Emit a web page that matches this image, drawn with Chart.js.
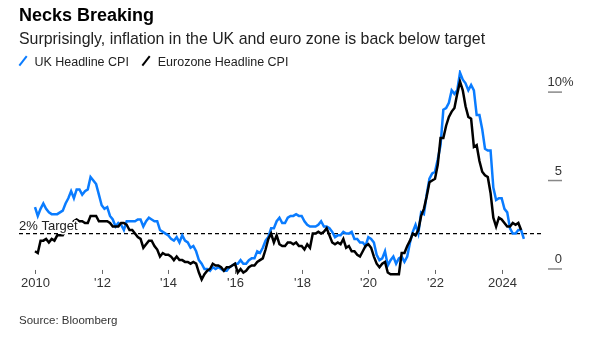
<!DOCTYPE html>
<html>
<head>
<meta charset="utf-8">
<script src="https://cdn.jsdelivr.net/npm/chart.js@4.4.1/dist/chart.umd.min.js"></script>
<style>
  body { margin: 0; background: #fff; font-family: "Liberation Sans", Arial, sans-serif; }
  #wrap { position: relative; width: 592px; height: 337px; overflow: hidden; }
  #wrap canvas { position: absolute; left: 0; top: 0; }
  .title { position: absolute; left: 19px; top: 5px; font-size: 18px; font-weight: bold; color: #000; }
  .subtitle { position: absolute; left: 19px; top: 30px; font-size: 15.9px; color: #222; }
  .legend { position: absolute; left: 19px; top: 55px; font-size: 12.5px; color: #222; white-space: nowrap; }
  .legend span.item { display: inline-block; margin-right: 10px; }
  .legend i { display: inline-block; width: 2.4px; height: 12px; margin: 0 10px -1px 3px; transform: rotate(38deg); }
  .source { position: absolute; left: 19px; top: 314px; font-size: 11.5px; color: #333; }
</style>
</head>
<body>
<div id="wrap">
  <canvas id="cpiChart" width="592" height="337"></canvas>
  <div class="title">Necks Breaking</div>
  <div class="subtitle">Surprisingly, inflation in the UK and euro zone is back below target</div>
  <div class="legend">
    <span class="item"><i style="background:#0a7cff"></i>UK Headline CPI</span>
    <span class="item"><i style="background:#000"></i>Eurozone Headline CPI</span>
  </div>
  <div class="source">Source: Bloomberg</div>
</div>
<script>
// monthly year-on-year CPI, Jan 2010 onwards
const startYear = 2010;
const ukCpi = [
  3.5, 3.0, 3.4, 3.7, 3.4, 3.2, 3.1, 3.1, 3.1, 3.2, 3.3, 3.7,
  4.0, 4.4, 4.0, 4.5, 4.5, 4.2, 4.4, 4.5, 5.2, 5.0, 4.8, 4.2,
  3.6, 3.4, 3.5, 3.0, 2.8, 2.4, 2.6, 2.5, 2.2, 2.7, 2.7, 2.7,
  2.7, 2.8, 2.8, 2.4, 2.7, 2.9, 2.8, 2.7, 2.7, 2.2, 2.1, 2.0,
  1.9, 1.7, 1.6, 1.8, 1.5, 1.9, 1.6, 1.5, 1.2, 1.3, 1.0, 0.5,
  0.3, 0.0, 0.0, -0.1, 0.1, 0.0, 0.1, 0.0, -0.1, -0.1, 0.1, 0.2,
  0.3, 0.3, 0.5, 0.3, 0.3, 0.5, 0.6, 0.6, 1.0, 0.9, 1.2, 1.6,
  1.8, 2.3, 2.3, 2.7, 2.9, 2.6, 2.6, 2.9, 3.0, 3.0, 3.1, 3.0,
  3.0, 2.7, 2.5, 2.4, 2.4, 2.4, 2.5, 2.7, 2.4, 2.4, 2.3, 2.1,
  1.8, 1.9, 1.9, 2.1, 2.0, 2.0, 2.1, 1.7, 1.7, 1.5, 1.5, 1.3,
  1.8, 1.7, 1.5, 0.8, 0.5, 0.6, 1.0, 0.2, 0.5, 0.7, 0.3, 0.6,
  0.7, 0.4, 0.7, 1.5, 2.1, 2.5, 2.0, 3.2, 3.1, 4.2, 5.1, 5.4,
  5.5, 6.2, 7.0, 9.0, 9.1, 9.4, 10.1, 9.9, 10.1, 11.1, 10.7, 10.5,
  10.1, 10.4, 10.1, 8.7, 8.7, 7.9, 6.8, 6.7, 6.7, 4.6, 3.9, 4.0,
  4.0, 3.4, 3.2, 2.3, 2.0, 2.0, 2.2, 2.2, 1.7
];
const euroCpi = [
  1.0, 0.9, 1.6, 1.6, 1.7, 1.5, 1.7, 1.6, 1.9, 1.9, 1.9, 2.2,
  2.3, 2.4, 2.7, 2.8, 2.7, 2.7, 2.6, 2.6, 3.0, 3.0, 3.0, 2.7,
  2.7, 2.7, 2.7, 2.6, 2.4, 2.4, 2.4, 2.6, 2.6, 2.5, 2.2, 2.2,
  2.0, 1.8, 1.7, 1.2, 1.4, 1.6, 1.6, 1.3, 1.1, 0.7, 0.9, 0.8,
  0.8, 0.7, 0.5, 0.7, 0.5, 0.5, 0.4, 0.4, 0.3, 0.4, 0.3, -0.2,
  -0.6, -0.3, -0.1, 0.0, 0.3, 0.2, 0.2, 0.1, -0.1, 0.1, 0.1, 0.2,
  0.3, -0.2, 0.0, -0.2, -0.1, 0.1, 0.2, 0.2, 0.4, 0.5, 0.6, 1.1,
  1.7, 2.0, 1.5, 1.9, 1.4, 1.3, 1.3, 1.5, 1.5, 1.4, 1.5, 1.3,
  1.3, 1.1, 1.4, 1.2, 2.0, 2.0, 2.1, 2.0, 2.1, 2.3, 1.9, 1.5,
  1.4, 1.5, 1.4, 1.7, 1.2, 1.3, 1.0, 1.0, 0.8, 0.7, 1.0, 1.3,
  1.4, 1.2, 0.7, 0.3, 0.1, 0.3, 0.4, -0.2, -0.3, -0.3, -0.3, -0.3,
  0.9, 0.9, 1.3, 1.6, 2.0, 1.9, 2.2, 3.0, 3.4, 4.1, 4.9, 5.0,
  5.1, 5.9, 7.4, 7.4, 8.1, 8.6, 8.9, 9.1, 9.9, 10.6, 10.1, 9.2,
  8.6, 8.5, 6.9, 7.0, 6.1, 5.5, 5.3, 5.2, 4.3, 2.9, 2.4, 2.9,
  2.8, 2.6, 2.4, 2.4, 2.6, 2.5, 2.6, 2.2
];
const targetRate = 2;
const xTicks = [2010, 2012, 2014, 2016, 2018, 2020, 2022, 2024];
const xTickLabels = ['2010', "'12", "'14", "'16", "'18", "'20", "'22", '2024'];
const yTicks = [0, 5, 10];
const yTickLabels = ['0', '5', '10'];

const xMin = 2009.52, xMax = 2025.21;

function toPoints(values) {
  return values.map((v, i) => ({ x: startYear + i / 12, y: v }));
}

// tick marks, tick labels and the target label
const axisDecor = {
  id: 'axisDecor',
  afterDatasetsDraw(chart) {
    const ctx = chart.ctx;
    const x = chart.scales.x, y = chart.scales.y;
    ctx.save();
    ctx.font = '13px "Liberation Sans", Arial, sans-serif';
    ctx.fillStyle = '#333';
    ctx.strokeStyle = '#666';
    ctx.lineWidth = 1;

    // x ticks
    const y0 = y.getPixelForValue(0);
    ctx.textAlign = 'center';
    ctx.textBaseline = 'middle';
    xTicks.forEach((t, i) => {
      const px = Math.round(x.getPixelForValue(t)) + 0.5;
      ctx.beginPath();
      ctx.moveTo(px, y0 + 1);
      ctx.lineTo(px, y0 + 5);
      ctx.stroke();
      ctx.fillText(xTickLabels[i], px, y0 + 14);
    });

    // y ticks on the right, label sits above the tick line
    ctx.strokeStyle = '#888';
    ctx.lineWidth = 1.5;
    ctx.textAlign = 'right';
    ctx.textBaseline = 'alphabetic';
    yTicks.forEach((t, i) => {
      const py = y.getPixelForValue(t);
      ctx.beginPath();
      ctx.moveTo(548, py);
      ctx.lineTo(562, py);
      ctx.stroke();
      ctx.fillText(yTickLabels[i], 562, py - 6);
      if (i === yTicks.length - 1) {
        ctx.textAlign = 'left';
        ctx.fillText('%', 562, py - 6);
        ctx.textAlign = 'right';
      }
    });

    // target label with a white halo
    const ty = y.getPixelForValue(targetRate) - 4;
    ctx.textAlign = 'left';
    ctx.lineWidth = 3;
    ctx.strokeStyle = '#fff';
    ctx.lineJoin = 'round';
    ctx.strokeText('2% Target', x.left, ty);
    ctx.fillStyle = '#222';
    ctx.fillText('2% Target', x.left, ty);
    ctx.restore();
  }
};

const ctx = document.getElementById('cpiChart').getContext('2d');
const cpiChart = new Chart(ctx, {
  type: 'line',
  data: {
    datasets: [
      {
        label: 'Target',
        data: [{ x: xMin, y: targetRate }, { x: xMax, y: targetRate }],
        borderColor: '#000',
        borderWidth: 1.3,
        borderDash: [4, 3],
        pointRadius: 0,
        order: 3
      },
      {
        label: 'Eurozone Headline CPI',
        data: toPoints(euroCpi),
        borderColor: '#000',
        borderWidth: 2.5,
        pointRadius: 0,
        tension: 0,
        order: 1
      },
      {
        label: 'UK Headline CPI',
        data: toPoints(ukCpi),
        borderColor: '#0a7cff',
        borderWidth: 2.5,
        pointRadius: 0,
        tension: 0,
        order: 2
      }
    ]
  },
  options: {
    responsive: false,
    animation: false,
    layout: { padding: { left: 19, right: 50, top: 70, bottom: 53 } },
    scales: {
      x: { type: 'linear', min: xMin, max: xMax, display: false },
      y: { min: -0.85, max: 11.25, display: false }
    },
    plugins: {
      legend: { display: false },
      tooltip: { enabled: false }
    }
  },
  plugins: [axisDecor]
});
</script>
</body>
</html>
